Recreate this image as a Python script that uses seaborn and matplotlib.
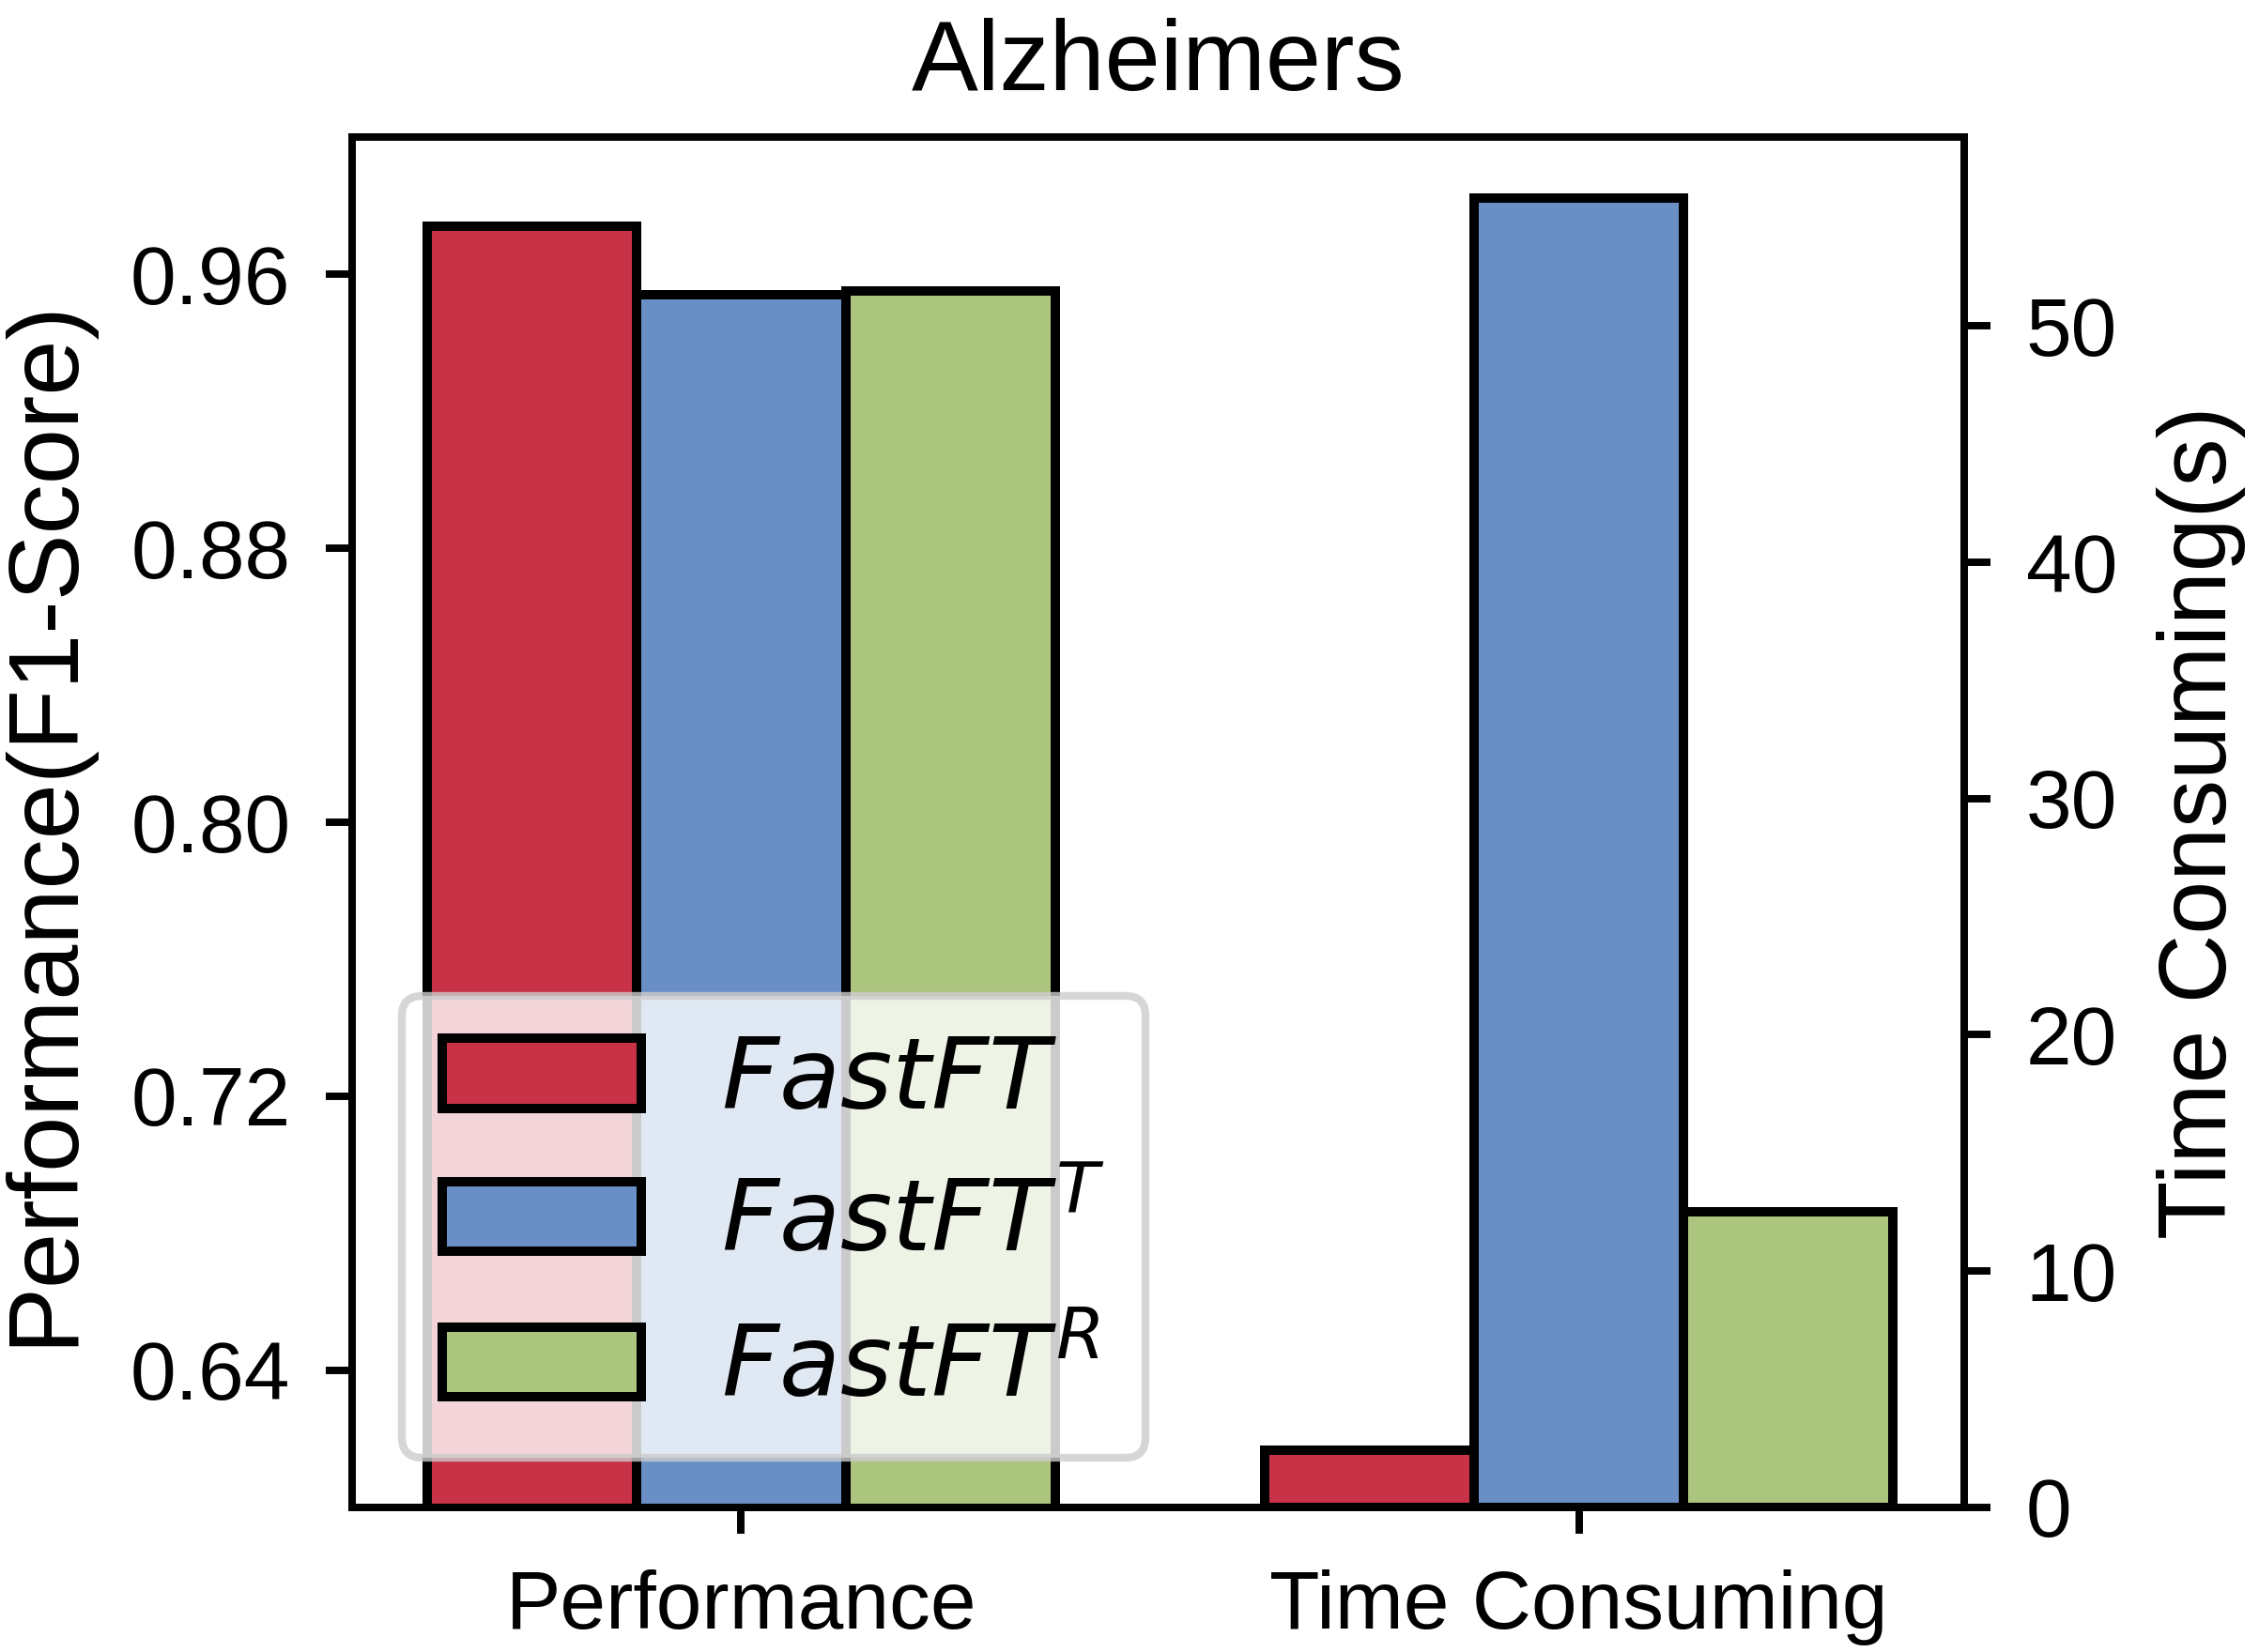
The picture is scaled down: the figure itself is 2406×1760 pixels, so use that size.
import numpy as np
import pandas as pd
import seaborn as sns
import matplotlib.pyplot as plt

# valores
metricas = ['Performance', 'Time Consuming']
metodos = ['FastFT', 'FastFT^T', 'FastFT^R']
etiquetas = ['$FastFT$', '$FastFT^T$', '$FastFT^R$']
rendimiento = [0.974, 0.954, 0.955]
tiempo = [2.4, 55.4, 12.5]
colores = ['#C83246', '#6A8FC7', '#ABC57F']

df_perf = pd.DataFrame({'metrica': 'Performance', 'metodo': metodos, 'valor': rendimiento})
df_time = pd.DataFrame({'metrica': 'Time Consuming', 'metodo': metodos, 'valor': tiempo})

sns.set_style('ticks')
plt.rcParams['font.family'] = ['Liberation Sans', 'DejaVu Sans']
plt.rcParams['mathtext.fontset'] = 'dejavusans'
plt.rcParams['axes.linewidth'] = 1.9
for k in ['text.color', 'axes.labelcolor', 'xtick.color', 'ytick.color', 'axes.edgecolor']:
    plt.rcParams[k] = 'black'

fig, ax = plt.subplots(figsize=(8.02, 5.867), dpi=300)
fig.subplots_adjust(left=0.156, right=0.8695, top=0.917, bottom=0.0876)

sns.barplot(data=df_perf, x='metrica', y='valor', hue='metodo', order=metricas,
            hue_order=metodos, palette=colores, width=0.75, edgecolor='black',
            linewidth=2.4, saturation=1, ax=ax)
ax2 = ax.twinx()
sns.barplot(data=df_time, x='metrica', y='valor', hue='metodo', order=metricas,
            hue_order=metodos, palette=colores, width=0.75, edgecolor='black',
            linewidth=2.4, saturation=1, ax=ax2, legend=False)

ax.set_xlim(-0.464, 1.46)
ax.set_ylim(0.6, 1.0)
ax2.set_ylim(0, 58)
ax.set_yticks([0.64, 0.72, 0.80, 0.88, 0.96])
ax2.set_yticks([0, 10, 20, 30, 40, 50])

ax.set_xlabel('')
ax2.set_xlabel('')
ax.set_ylabel('Performance(F1-Score)', fontsize=25.5, labelpad=10)
ax2.set_ylabel('Time Consuming(s)', fontsize=24.5, labelpad=10)
ax.set_title('Alzheimers', fontsize=25.5, pad=12)

for a in (ax, ax2):
    a.tick_params(labelsize=21, length=6.8, width=1.9, pad=9)
    for s in a.spines.values():
        s.set_visible(True)
        s.set_linewidth(1.9)

handles, _ = ax.get_legend_handles_labels()
ax.legend_.remove()
leg = ax2.legend(handles, etiquetas, loc='lower left', fontsize=25.5, fancybox=True,
                 framealpha=0.8, handlelength=2.0, borderaxespad=0.5)
leg.get_frame().set_linewidth(2)
leg.get_frame().set_edgecolor('0.8')

plt.savefig('out.png', dpi=300)
